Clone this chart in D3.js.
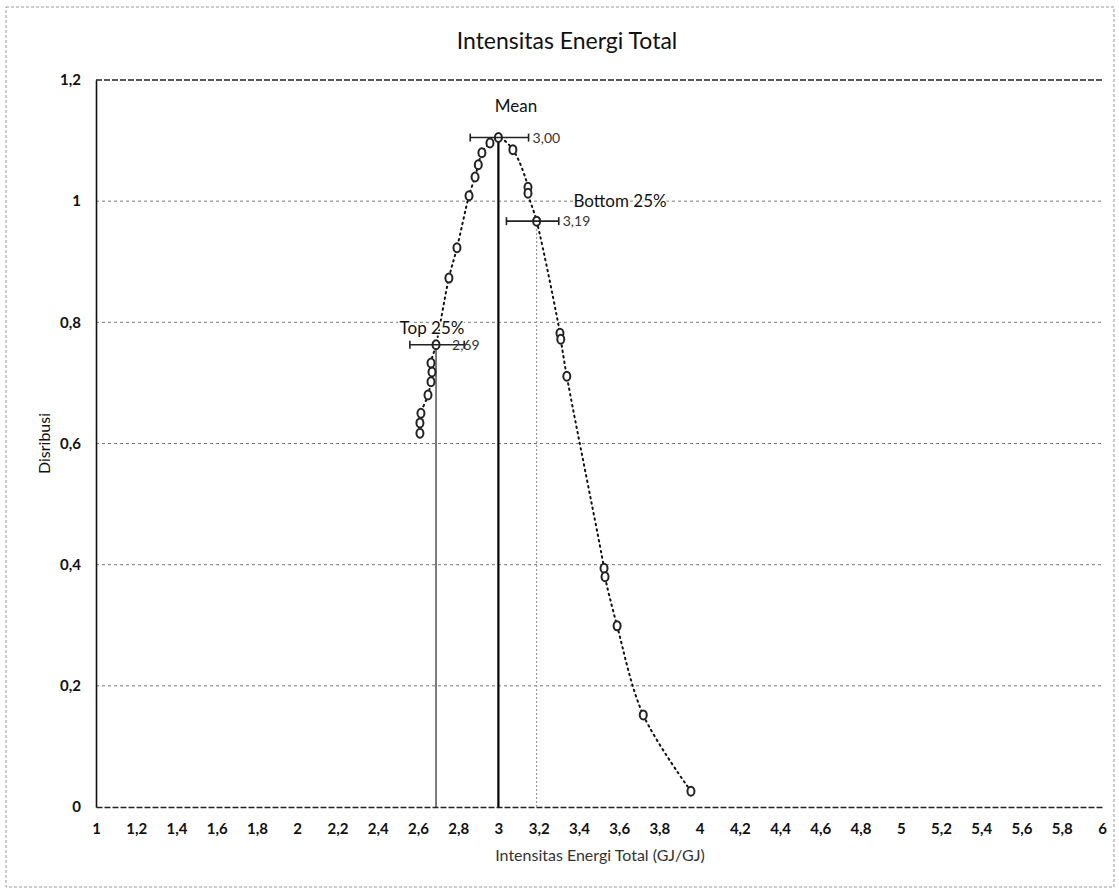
<!DOCTYPE html>
<html><head><meta charset="utf-8">
<script src="https://cdn.jsdelivr.net/npm/d3@7"></script>
<style>
html,body{margin:0;padding:0;background:#fff;}
svg{display:block;font-family:Lato,"Open Sans",sans-serif;}
</style></head>
<body>
<svg id="chart" width="1119" height="891"></svg>
<script>
// ---- data ----
const xTicks = d3.range(0, 26).map(i => +(1 + i * 0.2).toFixed(1));
const yTicks = [0, 0.2, 0.4, 0.6, 0.8, 1, 1.2];
const distX = [2.61, 2.61, 2.615, 2.65, 2.665, 2.67, 2.665, 2.69, 2.754, 2.794, 2.854, 2.884, 2.90, 2.918, 2.958, 3.00,
               3.072, 3.147, 3.147, 3.19, 3.306, 3.31, 3.34, 3.525, 3.53, 3.59, 3.72, 3.957];
const distY = [0.617, 0.634, 0.650, 0.680, 0.702, 0.718, 0.733, 0.763, 0.873, 0.923, 1.009, 1.040, 1.060, 1.080, 1.096, 1.105,
               1.085, 1.023, 1.013, 0.967, 0.782, 0.772, 0.711, 0.394, 0.380, 0.299, 0.152, 0.026];
const markerNames = ["Top 25%", "Mean", "Bottom 25%"];
const markerX = [2.69, 3.00, 3.19];
const markerY = [0.763, 1.105, 0.967];
const markerLabel = ["2,69", "3,00", "3,19"];
const errLow = [2.56, 2.86, 3.04];
const errHigh = [2.83, 3.15, 3.30];

// ---- layout ----
const svg = d3.select("#chart");
const x = d3.scaleLinear().domain([1, 6]).range([96, 1102]);
const y = d3.scaleLinear().domain([0, 1.2]).range([807, 80]);
const fmt = v => String(v).replace(".", ",");

// outer border
svg.append("rect").attr("x", 6).attr("y", 7).attr("width", 1108).attr("height", 880)
  .attr("fill", "none").attr("stroke", "#999").attr("stroke-dasharray", "3,2").attr("stroke-width", 1);

// title
svg.append("text").attr("x", 567).attr("y", 49).attr("text-anchor", "middle")
  .attr("font-size", 23).attr("fill", "#111").text("Intensitas Energi Total");

// gridlines
svg.append("g").selectAll("line").data(yTicks.filter(v => v > 0)).join("line")
  .attr("x1", x(1)).attr("x2", x(6)).attr("y1", d => y(d)).attr("y2", d => y(d))
  .attr("stroke", d => d === 1.2 ? "#222" : "#777")
  .attr("stroke-width", d => d === 1.2 ? 1.4 : 1)
  .attr("stroke-dasharray", d => d === 1.2 ? "6,2" : "3,3");

// axes
const yAxis = d3.axisLeft(y).tickValues(yTicks).tickFormat(fmt).tickSize(0).tickPadding(15);
const gy = svg.append("g").attr("transform", `translate(${x(1)},0)`).call(yAxis);
gy.select(".domain").attr("stroke", "#111").attr("stroke-width", 1.6);
gy.selectAll("text").attr("font-size", 15).attr("font-weight", "bold").attr("fill", "#111")
  .attr("font-family", "Lato, sans-serif");

const xAxis = d3.axisBottom(x).tickValues(xTicks).tickFormat(fmt).tickSize(0).tickPadding(16);
const gx = svg.append("g").attr("transform", `translate(0,${y(0)})`).call(xAxis);
gx.select(".domain").attr("stroke", "#222").attr("stroke-width", 1.4).attr("stroke-dasharray", "6,2");
gx.selectAll("text").attr("font-size", 15).attr("font-weight", "bold").attr("fill", "#111")
  .attr("font-family", "Lato, sans-serif");

// axis titles
svg.append("text").attr("transform", `translate(50,${(y(0) + y(1.2)) / 2}) rotate(-90)`)
  .attr("text-anchor", "middle").attr("font-size", 16).attr("fill", "#111").text("Disribusi");
svg.append("text").attr("x", 600).attr("y", 861).attr("text-anchor", "middle")
  .attr("font-size", 16).attr("fill", "#333").text("Intensitas Energi Total (GJ/GJ)");

// vertical reference lines
const vStyle = [{c: "#444", w: 1.4, d: null}, {c: "#000", w: 2.2, d: null}, {c: "#999", w: 1.2, d: "2,2"}];
svg.append("g").selectAll("line").data(markerX).join("line")
  .attr("x1", d => x(d)).attr("x2", d => x(d))
  .attr("y1", y(0)).attr("y2", (d, i) => y(markerY[i]))
  .attr("stroke", (d, i) => vStyle[i].c).attr("stroke-width", (d, i) => vStyle[i].w)
  .attr("stroke-dasharray", (d, i) => vStyle[i].d);

// dotted distribution line
const pts = distX.map((d, i) => [d, distY[i]]);
const line = d3.line().x(d => x(d[0])).y(d => y(d[1])).curve(d3.curveCatmullRom.alpha(0.5));
svg.append("path").attr("d", line(pts)).attr("fill", "none").attr("stroke", "#111")
  .attr("stroke-width", 2).attr("stroke-dasharray", "1.5,4").attr("stroke-linecap", "round");

// markers
svg.append("g").selectAll("ellipse").data(pts).join("ellipse")
  .attr("cx", d => x(d[0])).attr("cy", d => y(d[1])).attr("rx", 3.5).attr("ry", 4.5)
  .attr("fill", "#fff").attr("stroke", "#222").attr("stroke-width", 2);

// error bars
const eb = svg.append("g").attr("stroke", "#222").attr("stroke-width", 1.6);
markerX.forEach((mx, i) => {
  const yy = y(markerY[i]);
  eb.append("line").attr("x1", x(errLow[i])).attr("x2", x(errHigh[i])).attr("y1", yy).attr("y2", yy);
  eb.append("line").attr("x1", x(errLow[i])).attr("x2", x(errLow[i])).attr("y1", yy - 4).attr("y2", yy + 4);
  eb.append("line").attr("x1", x(errHigh[i])).attr("x2", x(errHigh[i])).attr("y1", yy - 4).attr("y2", yy + 4);
});

// value labels
const valOffset = [-10, 4, 4];
svg.append("g").selectAll("text").data(markerLabel).join("text")
  .attr("x", (d, i) => i === 0 ? x(markerX[i]) + 16 : x(errHigh[i]) + valOffset[i])
  .attr("y", (d, i) => y(markerY[i]) + 5)
  .attr("font-size", 14).attr("fill", "#333").attr("font-family", "Lato, sans-serif").text(d => d);

// name labels
const namePos = [[432, 334], [516, 112], [620, 207]];
svg.append("g").selectAll("text").data(markerNames).join("text")
  .attr("x", (d, i) => namePos[i][0]).attr("y", (d, i) => namePos[i][1])
  .attr("text-anchor", "middle").attr("font-size", 17).attr("fill", "#111")
  .attr("font-family", "Lato, sans-serif")
  .attr("paint-order", "stroke").attr("stroke", "#fff").attr("stroke-width", 3)
  .text(d => d);
</script>
</body></html>
